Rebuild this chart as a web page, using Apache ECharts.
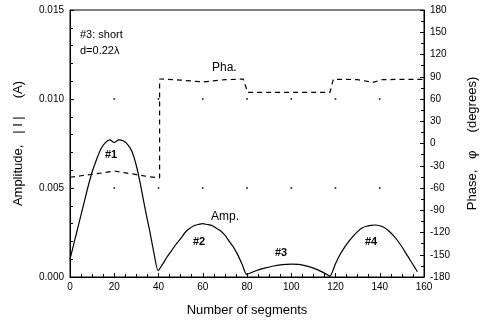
<!DOCTYPE html>
<html>
<head>
<meta charset="utf-8">
<script src="https://cdn.jsdelivr.net/npm/echarts@6/dist/echarts.min.js"></script>
<style>
  html, body { margin: 0; padding: 0; background: #fff; }
  #main { width: 484px; height: 322px; }
</style>
</head>
<body>
<div id="main"></div>
<script type="text/javascript">

    // amplitude |I| (x1e-3 A) vs segment number
    var ampSeg = [0, 2, 4, 6, 8, 10, 12, 14, 16, 18, 20, 22, 24, 26, 28, 30, 32, 34, 36, 38, 39.8,
        42, 44, 46, 48, 50, 52, 54, 56, 58, 60, 62, 64, 66, 68, 70, 72, 74, 76, 78, 79.8,
        84, 88, 92, 96, 100, 104, 108, 112, 116, 117.5,
        120, 122, 124, 126, 128, 130, 132, 134, 136, 138, 140, 142, 144, 146, 148, 150, 152, 154, 156, 157];
    var ampVal = [1.0, 2.0, 3.0, 4.0, 5.0, 5.9, 6.6, 7.2, 7.55, 7.7, 7.55, 7.7, 7.65, 7.45, 7.05, 6.25, 5.1, 3.8, 2.6, 1.3, 0.35,
        0.75, 1.15, 1.5, 1.85, 2.15, 2.5, 2.72, 2.88, 2.95, 3.0, 2.95, 2.9, 2.75, 2.6, 2.35, 2.0, 1.65, 1.2, 0.65, 0.15,
        0.35, 0.5, 0.62, 0.7, 0.72, 0.7, 0.58, 0.4, 0.15, 0.05,
        0.75, 1.25, 1.65, 2.0, 2.3, 2.55, 2.75, 2.85, 2.9, 2.92, 2.88, 2.78, 2.6, 2.35, 2.05, 1.7, 1.3, 0.9, 0.5, 0.3];

    // phase (degrees) vs segment number
    var phaseSeg = [0, 5, 10, 15, 20, 25, 30, 35, 40.5, 40.5, 50, 60, 70, 78.3, 80.3, 90, 100, 110, 117.5, 119, 125, 130, 137, 141, 150, 160];
    var phaseDeg = [-45.5, -43.5, -41.5, -39.5, -37, -39.5, -42, -44.5, -46.5, 87, 85.5, 83, 86, 87, 69, 69, 69, 69, 69, 86.5, 86.5, 86, 82.5, 86, 86.5, 86.5];

    var xTicks = [0, 20, 40, 60, 80, 100, 120, 140, 160];
    var ampTicks = [0, 0.005, 0.010, 0.015];

    var ampData = [];
    for (var i = 0; i < ampSeg.length; i++) {
        ampData.push([ampSeg[i], ampVal[i] / 1000]);
    }
    var phaseData = [];
    for (var i = 0; i < phaseSeg.length; i++) {
        phaseData.push([phaseSeg[i], phaseDeg[i]]);
    }
    // small dots at the inner grid crossings
    var dotData = [];
    for (var i = 1; i < xTicks.length - 1; i++) {
        for (var j = 1; j < ampTicks.length - 1; j++) {
            dotData.push([xTicks[i], ampTicks[j]]);
        }
    }

    var font = 'Liberation Sans, Arial, sans-serif';
    var ec = echarts.init(document.getElementById('main'));

    var option = {
        animation: false,
        textStyle: { fontFamily: font, color: '#000' },
        grid: {
            left: 70, right: 60, top: 10, bottom: 45,
            outerBoundsMode: 'none',
            show: true, borderColor: '#000', borderWidth: 1
        },
        xAxis: {
            type: 'value', min: 0, max: 160, interval: 20,
            name: 'Number of segments', nameLocation: 'middle', nameGap: 27,
            nameTextStyle: { fontSize: 13, color: '#000', fontFamily: font },
            axisLine: { lineStyle: { color: '#000', width: 1 } },
            axisTick: { inside: true, length: 4, lineStyle: { color: '#000' } },
            minorTick: { show: true, splitNumber: 4, length: 3, lineStyle: { color: '#000' } },
            axisLabel: { fontSize: 10, color: '#000', margin: 5 },
            splitLine: { show: false }
        },
        yAxis: [{
            type: 'value', min: 0, max: 0.015, interval: 0.005,
            name: 'Amplitude,   | I |     (A)', nameLocation: 'middle', nameGap: 45,
            nameTextStyle: { fontSize: 13, color: '#000', fontFamily: font },
            axisLine: { show: true, lineStyle: { color: '#000', width: 1 } },
            axisTick: { inside: true, length: 4, lineStyle: { color: '#000' } },
            minorTick: { show: true, splitNumber: 5, length: 3, lineStyle: { color: '#000' } },
            axisLabel: { fontSize: 10, color: '#000', margin: 6, formatter: function (v) { return v.toFixed(3); } },
            splitLine: { show: false }
        }, {
            type: 'value', min: -180, max: 180, interval: 30, position: 'right',
            name: 'Phase,   \u03c6     (degrees)', nameLocation: 'middle', nameGap: 42, nameRotate: 90,
            nameTextStyle: { fontSize: 13, color: '#000', fontFamily: font },
            axisLine: { show: true, lineStyle: { color: '#000', width: 1 } },
            axisTick: { inside: true, length: 4, lineStyle: { color: '#000' } },
            minorTick: { show: true, splitNumber: 2, length: 3, lineStyle: { color: '#000' } },
            axisLabel: { fontSize: 10, color: '#000', margin: 6 },
            splitLine: { show: false }
        }],
        series: [{
            name: 'Amp.',
            type: 'line',
            yAxisIndex: 0,
            data: ampData,
            showSymbol: false,
            smooth: 0.2,
            lineStyle: { color: '#000', width: 1.2 }
        }, {
            name: 'Pha.',
            type: 'line',
            yAxisIndex: 1,
            data: phaseData,
            showSymbol: false,
            lineStyle: { color: '#000', width: 1.2, type: [5, 4] }
        }, {
            type: 'scatter',
            yAxisIndex: 0,
            data: dotData,
            symbolSize: 2,
            itemStyle: { color: '#000' },
            silent: true
        }],
        graphic: [
            { type: 'text', left: 80, top: 29, style: { text: '#3: short', font: '11px ' + font, fill: '#000' } },
            { type: 'text', left: 80, top: 45, style: { text: 'd=0.22\u03bb', font: '11px ' + font, fill: '#000' } },
            { type: 'text', left: 212, top: 62, style: { text: 'Pha.', font: '12px ' + font, fill: '#000' } },
            { type: 'text', left: 211, top: 211, style: { text: 'Amp.', font: '12px ' + font, fill: '#000' } },
            { type: 'text', left: 105, top: 149, style: { text: '#1', font: 'bold 11px ' + font, fill: '#000' } },
            { type: 'text', left: 193, top: 236, style: { text: '#2', font: 'bold 11px ' + font, fill: '#000' } },
            { type: 'text', left: 275, top: 247, style: { text: '#3', font: 'bold 11px ' + font, fill: '#000' } },
            { type: 'text', left: 365, top: 236, style: { text: '#4', font: 'bold 11px ' + font, fill: '#000' } }
        ]
    };

    ec.setOption(option);
</script>
</body>
</html>
